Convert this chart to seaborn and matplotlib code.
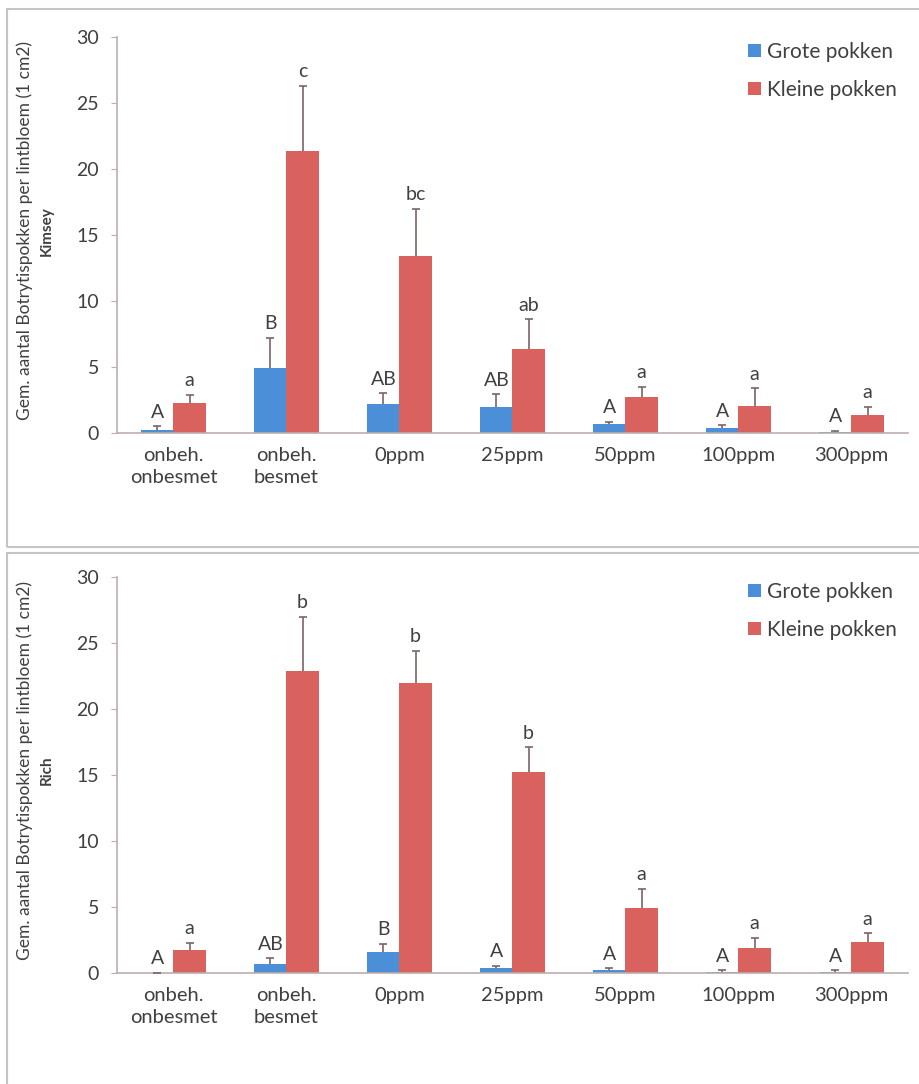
import numpy as np
import pandas as pd
import seaborn as sns
import matplotlib.pyplot as plt
from matplotlib.patches import Rectangle

# categories and series
categories = ['onbeh.\nonbesmet', 'onbeh.\nbesmet', '0ppm', '25ppm', '50ppm', '100ppm', '300ppm']
series = ['Grote pokken', 'Kleine pokken']

# Kimsey (top panel)
kimsey_grote = [0.2, 4.9, 2.2, 2.0, 0.65, 0.4, 0.1]
kimsey_grote_err = [0.5, 7.2, 3.0, 2.95, 0.85, 0.6, 0.15]
kimsey_kleine = [2.25, 21.4, 13.4, 6.4, 2.7, 2.05, 1.4]
kimsey_kleine_err = [2.9, 26.3, 17.0, 8.6, 3.5, 3.4, 2.0]
kimsey_grote_lbl = ['A', 'B', 'AB', 'AB', 'A', 'A', 'A']
kimsey_kleine_lbl = ['a', 'c', 'bc', 'ab', 'a', 'a', 'a']

# Rich (bottom panel)
rich_grote = [0.0, 0.7, 1.6, 0.35, 0.25, 0.1, 0.1]
rich_grote_err = [0.0, 1.1, 2.2, 0.55, 0.35, 0.2, 0.2]
rich_kleine = [1.75, 22.9, 22.0, 15.2, 4.9, 1.9, 2.35]
rich_kleine_err = [2.3, 27.0, 24.4, 17.1, 6.4, 2.65, 3.0]
rich_grote_lbl = ['A', 'AB', 'B', 'A', 'A', 'A', 'A']
rich_kleine_lbl = ['a', 'b', 'b', 'b', 'a', 'a', 'a']

yticks = [0, 5, 10, 15, 20, 25, 30]

colors = ['#4a8fd8', '#d9625e']
err_color = '#7d6464'
text_color = '#404040'
spine_color = '#bcaeae'

sns.set_style("white")
plt.rcParams['font.family'] = ['Lato', 'DejaVu Sans']
plt.rcParams['text.color'] = text_color

fig = plt.figure(figsize=(9.2, 10.84), dpi=100)

# panel frames
fig.patches.append(Rectangle((7 / 920, 1 - 547 / 1084), 0.999, 538 / 1084,
                             transform=fig.transFigure, fill=False,
                             edgecolor='#c4c4c4', linewidth=1.5))
fig.patches.append(Rectangle((7 / 920, -0.01), 0.999, 1 - 553 / 1084 + 0.01,
                             transform=fig.transFigure, fill=False,
                             edgecolor='#c4c4c4', linewidth=1.5))


def draw_panel(rect, grote, grote_err, kleine, kleine_err, lbl_g, lbl_k, name):
    ax = fig.add_axes(rect)
    df = pd.DataFrame({
        'cat': categories * 2,
        'serie': [series[0]] * len(categories) + [series[1]] * len(categories),
        'val': grote + kleine,
    })
    sns.barplot(data=df, x='cat', y='val', hue='serie', order=categories,
                hue_order=series, palette=colors, width=0.57, errorbar=None,
                saturation=1, linewidth=0, ax=ax)
    tops = [grote_err, kleine_err]
    lbls = [lbl_g, lbl_k]
    vals = [grote, kleine]
    bar_conts = list(ax.containers)
    for i, cont in enumerate(bar_conts):
        xs = [p.get_x() + p.get_width() / 2 for p in cont.patches]
        # upward-only error bars with a single cap
        ax.vlines(xs, vals[i], tops[i], color=err_color, linewidth=1.2, zorder=3)
        ax.scatter(xs, tops[i], marker='_', s=40, color=err_color,
                   linewidths=1.2, zorder=3)
        for x, t, s in zip(xs, tops[i], lbls[i]):
            ax.annotate(s, (x, t), xytext=(0, 4), textcoords='offset points',
                        ha='center', va='bottom', fontsize=14, color=text_color)
    ax.set_ylim(0, 30)
    ax.set_xlim(-0.5, len(categories) - 0.5)
    ax.set_yticks(yticks)
    ax.set_xlabel('')
    ax.set_ylabel('')
    ax.set_xticks(range(len(categories)))
    ax.set_xticklabels(categories, fontsize=14.5, color=text_color, linespacing=1.35)
    ax.set_xticks(np.arange(-0.5, len(categories), 1), minor=True)
    ax.tick_params(axis='x', which='major', length=0, pad=10)
    ax.tick_params(axis='x', which='minor', length=4, color=spine_color, direction='inout')
    ax.tick_params(axis='y', length=4, color=spine_color, labelsize=14,
                   labelcolor=text_color, pad=9, left=True)
    sns.despine(ax=ax)
    for s in ['left', 'bottom']:
        ax.spines[s].set_color(spine_color)
        ax.spines[s].set_linewidth(1.2)
    leg = ax.legend(loc='upper right', frameon=False, fontsize=15,
                    handlelength=0.6, handleheight=0.6, handletextpad=0.3,
                    labelspacing=0.85, borderpad=0, borderaxespad=0,
                    bbox_to_anchor=(0.986, 0.987))
    for t in leg.get_texts():
        t.set_color(text_color)
    yc = rect[1] + rect[3] / 2 + 0.004
    fig.text(25 / 920, yc, 'Gem. aantal Botrytispokken per lintbloem (1 cm2)',
             rotation=90, ha='center', va='center', fontsize=12.5, color=text_color)
    fig.text(47 / 920, yc, name, rotation=90, ha='center', va='center',
             fontsize=11, fontweight='bold', color=text_color)
    return ax


draw_panel([117 / 920, 1 - 433 / 1084, 791 / 920, 396 / 1084],
           kimsey_grote, kimsey_grote_err, kimsey_kleine, kimsey_kleine_err,
           kimsey_grote_lbl, kimsey_kleine_lbl, 'Kimsey')
draw_panel([117 / 920, 1 - 973 / 1084, 791 / 920, 396 / 1084],
           rich_grote, rich_grote_err, rich_kleine, rich_kleine_err,
           rich_grote_lbl, rich_kleine_lbl, 'Rich')

fig.savefig('out.png', dpi=100)
